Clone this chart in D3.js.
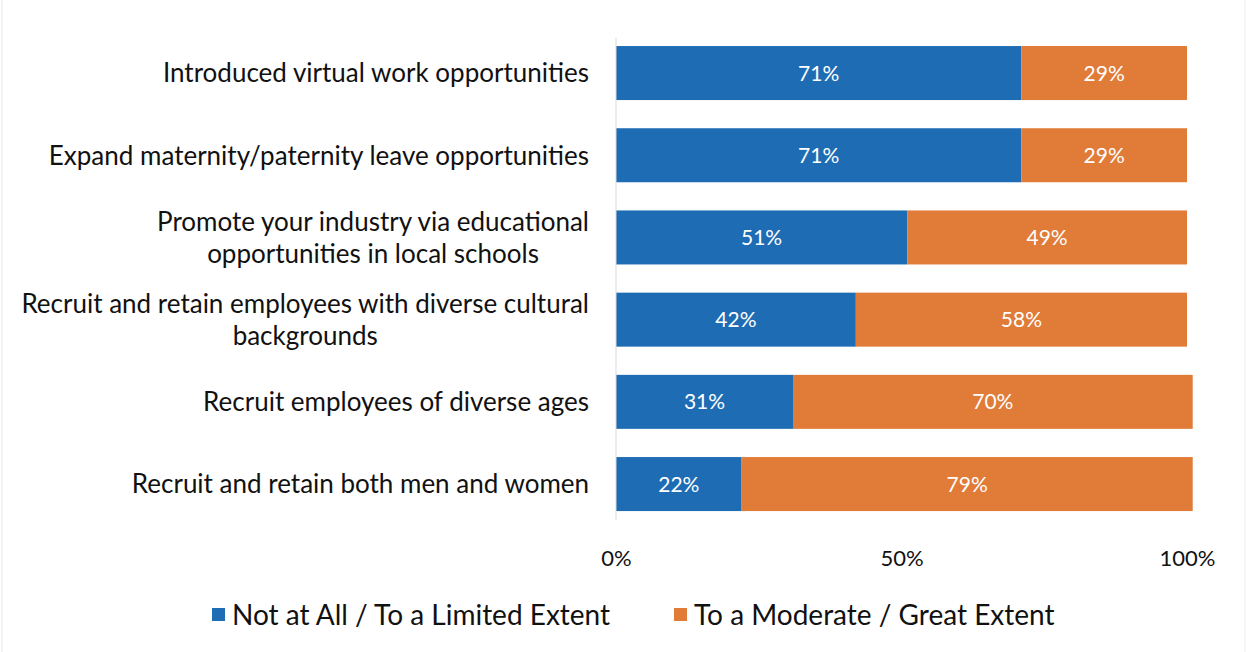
<!DOCTYPE html>
<html>
<head>
<meta charset="utf-8">
<script src="https://cdn.jsdelivr.net/npm/d3@7/dist/d3.min.js"></script>
<style>
  html, body { margin: 0; padding: 0; background: #ffffff; }
  svg { display: block; }
  text { font-family: "Lato", "Open Sans", sans-serif; }
</style>
</head>
<body>
<svg id="chart" width="1248" height="652"></svg>
<script>
// Survey items, top to bottom; "\n" marks a line break in the label
const categories = [
  "Introduced virtual work opportunities",
  "Expand maternity/paternity leave opportunities",
  "Promote your industry via educational\nopportunities in local schools",
  "Recruit and retain employees with diverse cultural\nbackgrounds",
  "Recruit employees of diverse ages",
  "Recruit and retain both men and women"
];
const notAtAll = [71, 71, 51, 42, 31, 22];
const moderateGreat = [29, 29, 49, 58, 70, 79];
const seriesNames = ["Not at All / To a Limited Extent", "To a Moderate / Great Extent"];
const tickValues = [0, 50, 100];

const colors = ["#1e6cb4", "#e17b38"];

const svg = d3.select("#chart");
const W = 1248, H = 652;

const x = d3.scaleLinear().domain([0, 100]).range([616, 1187]);
const y = d3.scaleBand().domain(d3.range(categories.length))
  .range([29.6, 527.5]).paddingInner(0.343).paddingOuter(0.2);

const rows = categories.map((c, i) => ({ i, vals: [notAtAll[i], moderateGreat[i]] }));

// stacked segments with value labels
const g = svg.append("g");
rows.forEach(r => {
  let acc = 0;
  r.vals.forEach((v, k) => {
    g.append("rect")
      .attr("x", x(acc))
      .attr("y", y(r.i))
      .attr("width", x(acc + v) - x(acc))
      .attr("height", y.bandwidth())
      .attr("fill", colors[k]);
    g.append("text")
      .attr("x", (x(acc) + x(acc + v)) / 2)
      .attr("y", y(r.i) + y.bandwidth() / 2)
      .attr("dy", "0.36em")
      .attr("text-anchor", "middle")
      .attr("fill", "#ffffff")
      .attr("font-size", 21)
      .text(v + "%");
    acc += v;
  });
});

// vertical baseline
svg.append("line")
  .attr("x1", x(0)).attr("x2", x(0))
  .attr("y1", 38).attr("y2", 520)
  .attr("stroke", "#d9d9d9").attr("stroke-width", 1);

// category labels
const lineH = 32;
rows.forEach(r => {
  const lines = categories[r.i].split("\n");
  const cy = y(r.i) + y.bandwidth() / 2;
  const t = svg.append("text")
    .attr("text-anchor", "middle")
    .attr("font-size", 26)
    .attr("fill", "#111111");
  lines.forEach((ln, j) => {
    t.append("tspan")
      .attr("y", cy + (j - (lines.length - 1) / 2) * lineH)
      .attr("dy", "0.36em")
      .text(ln);
  });
  // right-align the block, centring shorter lines under the longest
  const widths = [];
  t.selectAll("tspan").each(function () { widths.push(this.getComputedTextLength()); });
  const maxW = d3.max(widths);
  t.selectAll("tspan").attr("x", 589 - maxW / 2);
});

// x axis tick labels
const axis = d3.axisBottom(x).tickValues(tickValues).tickFormat(d => d + "%").tickSize(0).tickPadding(0);
const ax = svg.append("g").attr("transform", "translate(0,558)").call(axis);
ax.select(".domain").remove();
ax.selectAll("text")
  .attr("font-size", 22)
  .attr("fill", "#111111")
  .attr("dy", "0.36em")
  .attr("y", 0)
  .style("font-family", "Lato, 'Open Sans', sans-serif");

// legend
const legendItems = [
  { name: seriesNames[0], color: colors[0], x: 212 },
  { name: seriesNames[1], color: colors[1], x: 674 }
];
const lg = svg.append("g");
legendItems.forEach(d => {
  lg.append("rect").attr("x", d.x).attr("y", 608).attr("width", 13).attr("height", 13).attr("fill", d.color);
  lg.append("text").attr("x", d.x + 20).attr("y", 615).attr("dy", "0.36em")
    .attr("font-size", 28).attr("fill", "#111111").text(d.name);
});

// faint page frame
svg.append("line").attr("x1", 2).attr("x2", 2).attr("y1", 0).attr("y2", H).attr("stroke", "#e6e6e6");
svg.append("line").attr("x1", W - 3).attr("x2", W - 3).attr("y1", 0).attr("y2", H).attr("stroke", "#eeeeee");
</script>
</body>
</html>
